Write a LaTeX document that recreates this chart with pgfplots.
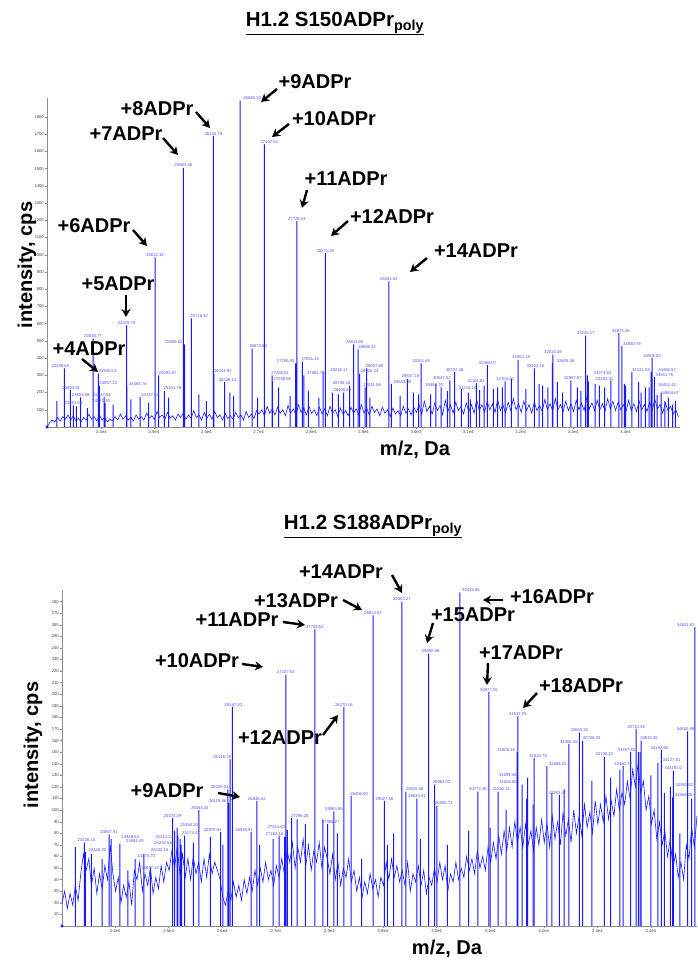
\documentclass[border=0pt]{standalone}
\usepackage{fontspec}
\setmainfont{Liberation Sans}
\usepackage{pgfplots}
\usepackage{pgfplotstable}
\pgfplotsset{compat=1.18}
\usetikzlibrary{arrows.meta}

\definecolor{spec}{RGB}{25,25,255}
\definecolor{lbl}{RGB}{80,80,245}

% ---------- H1.2 S150ADPr_poly ----------
\pgfplotstableread{
x y
22960 0
23010 25
23060 40
23110 30
23160 55
23210 35
23260 60
23310 45
23360 70
23410 40
23460 65
23510 35
23560 50
23610 30
23660 55
23710 40
23760 75
23810 45
23860 60
23910 35
23960 70
24010 40
24060 55
24110 30
24160 45
24210 35
24260 60
24310 40
24360 75
24410 45
24460 65
24510 40
24560 55
24610 35
24660 70
24710 45
24760 60
24810 40
24860 80
24910 50
24960 65
25010 45
25060 90
25110 55
25160 70
25210 45
25260 85
25310 50
25360 65
25410 40
25460 75
25510 55
25560 80
25610 45
25660 70
25710 50
25760 95
25810 55
25860 70
25910 40
25960 85
26010 50
26060 75
26110 45
26160 90
26210 55
26260 70
26310 40
26360 80
26410 50
26460 65
26510 45
26560 85
26610 55
26660 70
26710 40
26760 90
26810 55
26860 75
26910 50
26960 95
27010 75
27060 100
27110 65
27160 120
27210 80
27260 105
27310 70
27360 115
27410 80
27460 100
27510 65
27560 125
27610 80
27660 105
27710 70
27760 130
27810 85
27860 110
27910 70
27960 120
28010 80
28060 100
28110 65
28160 115
28210 75
28260 105
28310 65
28360 120
28410 80
28460 100
28510 60
28560 110
28610 75
28660 95
28710 65
28760 115
28810 80
28860 105
28910 70
28960 130
29010 80
29060 110
29110 70
29160 120
29210 85
29260 105
29310 65
29360 115
29410 80
29460 100
29510 60
29560 110
29610 75
29660 95
29710 65
29760 120
29810 80
29860 105
29910 70
29960 115
30010 85
30060 130
30110 70
30160 150
30210 90
30260 120
30310 75
30360 140
30410 95
30460 125
30510 70
30560 155
30610 90
30660 130
30710 80
30760 145
30810 95
30860 120
30910 75
30960 140
31010 90
31060 130
31110 80
31160 160
31210 95
31260 130
31310 85
31360 150
31410 100
31460 135
31510 85
31560 160
31610 95
31660 130
31710 80
31760 145
31810 95
31860 165
31910 100
31960 135
32010 85
32060 150
32110 95
32160 130
32210 80
32260 145
32310 95
32360 125
32410 90
32460 160
32510 100
32560 135
32610 95
32660 165
32710 100
32760 130
32810 90
32860 150
32910 95
32960 135
33010 90
33060 155
33110 100
33160 140
33210 95
33260 170
33310 105
33360 140
33410 95
33460 155
33510 100
33560 135
33610 90
33660 165
33710 105
33760 150
33810 95
33860 145
33910 100
33960 130
34010 90
34060 155
34110 95
34160 135
34210 90
34260 150
34310 100
34360 130
34410 90
34460 145
34510 95
34560 160
34610 105
34660 130
34710 80
34760 140
34810 95
34860 120
34910 75
34960 100
35010 60
}\topbase

\pgfplotstableread{
x y
23150 150
23520 120
23730 110
24220 130
24560 160
24900 140
25280 170
25860 190
26000 150
26450 200
26520 180
26980 170
27380 230
27600 180
27950 210
28150 170
28520 190
28620 200
29120 170
29700 180
29950 200
30050 190
30280 190
30380 250
30600 210
30870 220
31000 200
31040 160
31300 240
31480 220
31560 230
31650 230
31820 280
32100 220
32350 250
32420 240
32520 230
32700 260
32800 200
33080 230
33150 210
33420 250
33500 240
33600 230
33720 270
33980 250
34000 240
34250 260
34300 200
34380 230
34680 200
34750 150
34820 170
34900 130
34950 150
}\topspike

\pgfplotstableread{
x y lab dx
23289.63 340 23289.63 -4
23403.91 215 23403.91 1
23603.08 172 23603.08 0
23463.04 125 23463.04 0
23838.77 515 23838.77 0
23940.53 310 23940.53 9
23957.23 240 23957.23 9
24047.94 175 24047.94 -2
24071.10 140 24071.10 -4
24479.79 590 24479.79 0
24483.76 235 24483.76 11
24737.82 175 24737.82 10
25022.15 985 25022.15 0
25092.07 300 25092.07 9
25201.78 210 25201.78 8
25588.62 480 25588.62 -11
25563.46 1505 25563.46 0
25716.67 630 25716.67 8
26134.79 1690 26134.79 0
26144.97 310 26144.97 9
26348.13 260 26348.13 3
26646.10 1895 26646.10 12
26873.63 455 26873.63 6
27107.51 1640 27107.51 5
27256.51 300 27256.51 8
27258.59 265 27258.59 10
27706.05 370 27706.05 -10
27728.04 1195 27728.04 0
27831.44 380 27831.44 8
27862.75 300 27862.75 12
28228.17 320 28228.17 16
28271.28 1010 28271.28 0
28405.69 200 28405.69 10
28735.26 240 28735.26 -8
28811.65 480 28811.65 1
28896.23 450 28896.23 9
28926.34 310 28926.34 10
29057.69 340 29057.69 8
29031.56 230 29031.56 7
29481.82 845 29481.82 0
29533.90 250 29533.90 11
29837.18 280 29837.18 3
30101.65 370 30101.65 0
30482.70 230 30482.70 -7
30647.52 270 30647.52 -8
30737.48 320 30737.48 0
31151.81 255 31151.81 0
31215.10 215 31215.10 -12
31364.07 360 31364.07 0
31704.20 265 31704.20 0
31952.18 390 31952.18 3
32262.10 340 32262.10 1
32615.49 420 32615.49 0
32605.36 370 32605.36 13
32957.87 270 32957.87 2
33240.17 530 33240.17 0
33273.63 300 33273.63 15
33292.41 265 33292.41 16
33873.39 545 33873.39 2
33930.79 470 33930.79 10
34121.33 320 34121.33 9
34508.50 400 34508.50 0
34486.57 320 34486.57 16
34551.75 290 34551.75 10
34451.42 230 34451.42 18
34604.67 185 34604.67 13
}\toppk

% ---------- H1.2 S188ADPr_poly ----------
\pgfplotstableread{
x y
23010 20
23060 30
23110 15
23160 28
23210 18
23260 35
23310 22
23360 45
23410 62
23460 48
23510 58
23560 35
23610 50
23660 28
23710 45
23760 32
23810 52
23860 40
23910 70
23960 45
24010 30
24060 42
24110 20
24160 35
24210 25
24260 38
24310 18
24360 48
24410 40
24460 55
24510 30
24560 45
24610 35
24660 50
24710 28
24760 42
24810 32
24860 52
24910 38
24960 55
25010 48
25060 65
25110 50
25160 68
25210 45
25260 62
25310 42
25360 58
25410 40
25460 60
25510 45
25560 55
25610 38
25660 58
25710 42
25760 62
25810 45
25860 55
25910 48
25960 40
26010 25
26060 18
26110 30
26160 22
26210 38
26260 25
26310 35
26360 22
26410 40
26460 28
26510 42
26560 30
26610 48
26660 35
26710 50
26760 38
26810 55
26860 40
26910 48
26960 35
27010 52
27060 42
27110 58
27160 45
27210 65
27260 55
27310 72
27360 50
27410 68
27460 55
27510 75
27560 52
27610 70
27660 48
27710 65
27760 55
27810 72
27860 50
27910 68
27960 58
28010 45
28060 62
28110 40
28160 55
28210 35
28260 50
28310 42
28360 58
28410 38
28460 48
28510 30
28560 42
28610 25
28660 38
28710 28
28760 45
28810 32
28860 40
28910 25
28960 42
29010 35
29060 55
29110 40
29160 58
29210 42
29260 52
29310 38
29360 48
29410 35
29460 55
29510 30
29560 45
29610 38
29660 52
29710 35
29760 48
29810 28
29860 42
29910 35
29960 50
30010 38
30060 55
30110 40
30160 52
30210 30
30260 45
30310 38
30360 55
30410 40
30460 50
30510 42
30560 60
30610 48
30660 58
30710 45
30760 65
30810 50
30860 60
30910 48
30960 68
31010 55
31060 72
31110 58
31160 78
31210 62
31260 82
31310 65
31360 85
31410 68
31460 90
31510 72
31560 85
31610 68
31660 88
31710 70
31760 82
31810 65
31860 85
31910 70
31960 92
32010 72
32060 88
32110 68
32160 95
32210 75
32260 90
32310 70
32360 98
32410 78
32460 92
32510 72
32560 100
32610 80
32660 95
32710 78
32760 105
32810 85
32860 98
32910 80
32960 108
33010 88
33060 105
33110 90
33160 112
33210 92
33260 108
33310 95
33360 118
33410 100
33460 115
33510 105
33560 125
33610 110
33660 135
33710 120
33760 140
33810 115
33860 125
33910 100
33960 112
34010 88
34060 100
34110 75
34160 90
34210 70
34260 82
34310 60
34360 75
34410 50
34460 62
34510 42
34560 55
34610 40
34660 70
34710 58
34760 85
34810 68
34860 95
}\botbase

\pgfplotstableread{
x y
23260 68
23560 62
23760 58
24240 48
24540 62
25110 82
25300 78
25460 72
25780 77
26010 70
26700 70
26950 75
27060 78
27400 92
27550 88
27880 92
28150 80
28600 58
29080 70
29200 80
29700 75
30200 70
30600 82
31000 85
31300 100
31680 110
31800 105
32150 115
32380 118
32900 125
33250 128
33420 135
33620 150
33800 150
34000 130
34250 115
34540 80
34760 110
}\botspike

\pgfplotstableread{
x y lab dx
23428.15 72 23428.15 2
23448.30 64 23448.30 12
23887.91 79 23887.91 0
23928.63 75 23928.63 19
24091.09 71 24091.09 15
24375.70 58 24375.70 11
24657.12 48 24657.12 0
25074.29 93 25074.29 0
25158.20 85 25158.20 12
25174.47 78 25174.47 13
25214.14 75 25214.14 -16
25232.58 70 25232.58 -18
25242.16 64 25242.16 -22
25563.24 100 25563.24 1
25970.83 81 25970.83 -8
26105.04 118 26105.04 -8
26119.96 106 26119.96 -11
26146.78 144 26146.78 -8
26187.20 189 26187.20 1
26539.91 81 26539.91 -7
26646.42 108 26646.42 0
27190.00 217 27107.53 0
27162.18 77 27162.18 -10
27214.80 83 27214.80 -11
27296.28 93 27296.28 8
27729.62 256 27729.62 0
27966.27 88 27966.27 3
28084.85 99 28084.85 0
28270.16 189 28270.16 0
28406.00 112 28406.00 8
29027.68 108 29027.68 0
28813.97 268 28813.97 0
29353.27 280 29353.27 0
29425.26 116 29425.26 9
29633.31 110 29633.31 0
29850.98 235 29850.98 2
29963.02 122 29963.02 7
30005.74 104 30005.74 7
30435.88 288 30435.88 11
30772.36 116 30772.36 0
30977.05 202 30977.05 0
31150.13 116 31150.13 3
31505.16 150 31505.16 -11
31594.80 122 31594.80 -14
31699.56 128 31699.56 -20
31517.05 181 31517.05 0
31820.76 145 31820.76 4
32058.52 138 32058.52 11
32293.47 113 32293.47 -2
32468.36 157 32468.36 0
32663.33 167 32663.33 0
32726.33 160 32726.33 9
33130.23 146 33130.23 0
33480.72 138 33480.72 0
33767.60 150 33767.60 -12
33724.38 170 33724.38 0
33815.35 160 33815.35 8
34192.88 152 34192.88 -2
34127.51 141 34127.51 14
34419.02 134 34419.02 0
34682.89 168 34682.89 -2
34362.82 120 34362.82 14
34406.38 111 34406.38 11
34820.00 258 34821.62 -9
}\botpk

\pgfplotsset{
  spectrum/.style={
    scale only axis, clip=false,
    axis x line*=bottom, axis y line*=left,
    axis line style={black!45, line width=0.6pt},
    tick style={black!45, line width=0.4pt},
    tick align=outside, major tick length=2pt,
    ymin=0,
    scaled x ticks=false, scaled y ticks=false,
    xtick={24000,25000,...,34000},
    xticklabels={2.4e4,2.5e4,2.6e4,2.7e4,2.8e4,2.9e4,3.0e4,3.1e4,3.2e4,3.3e4,3.4e4},
    tick label style={font=\fontsize{4.2}{5}\selectfont, text=black!75, inner sep=1pt},
    /pgf/number format/assume math mode=true,
    /pgf/number format/1000 sep={},
  },
  base/.style={draw=spec, color=spec, line width=0.6pt},
  comb/.style={ybar, bar width=1pt, bar shift=0pt, fill=spec, draw=none, mark=none},
  pk/.style={comb,
    point meta=explicit symbolic, nodes near coords,
    visualization depends on=\thisrow{dx}\as\dx,
    every node near coord/.append style={font=\fontsize{4.2}{5}\selectfont,
      text=lbl, inner sep=0.6pt, anchor=south, xshift=\dx pt}},
}
\tikzset{
  ann/.style={font=\fontsize{20}{22}\selectfont\bfseries, inner sep=0pt},
  arr/.style={-{Stealth[length=8pt,width=9pt]}, line width=2.4pt, black},
  ttl/.style={font=\fontsize{20.5}{24}\selectfont\bfseries, inner sep=0pt, anchor=base},
}

\begin{document}
\begin{tikzpicture}[x=1pt,y=1pt]
\useasboundingbox (0,0) rectangle (697,963);

% top spectrum
\begin{axis}[spectrum, at={(47pt,536pt)}, anchor=south west,
  width=633pt, height=329pt,
  xmin=22960, xmax=35040, ymax=1910,
  ytick={100,200,...,1800}]
\addplot[base] table[x=x,y=y] {\topbase};
\addplot[comb] table[x=x,y=y] {\topspike};
\addplot[pk] table[x=x,y=y,meta=lab] {\toppk};
\addplot[only marks, mark=*, mark size=1.3pt, spec] coordinates {(22960,0)};
\end{axis}

% bottom spectrum
\begin{axis}[spectrum, at={(62pt,37pt)}, anchor=south west,
  width=635pt, height=336pt,
  xmin=23010, xmax=34860, ymax=290,
  ytick={10,20,...,280}]
\addplot[base] table[x=x,y=y] {\botbase};
\addplot[comb] table[x=x,y=y] {\botspike};
\addplot[pk] table[x=x,y=y,meta=lab] {\botpk};
\addplot[only marks, mark=*, mark size=1.3pt, spec] coordinates {(23010,0)};
\end{axis}

% titles and axis labels
\node[ttl] at (335,936) {\underline{H1.2 S150ADPr\textsubscript{poly}}};
\node[ttl] at (373,433) {\underline{H1.2 S188ADPr\textsubscript{poly}}};
\node[ann, rotate=90] at (27,698) {intensity, cps};
\node[ann, rotate=90] at (33,218) {intensity, cps};
\node[ann] at (415,513) {m/z, Da};
\node[ann] at (447,14) {m/z, Da};

% annotations, top
\node[ann] at (89,614) {+4ADPr};   \draw[arr] (82,604) -- (98,591);
\node[ann] at (118,679) {+5ADPr};  \draw[arr] (126,668) -- (126,646);
\node[ann] at (94,737) {+6ADPr};   \draw[arr] (133,733) -- (147,717);
\node[ann] at (126,829) {+7ADPr};  \draw[arr] (163,825) -- (178,808);
\node[ann] at (157,854) {+8ADPr};  \draw[arr] (196,851) -- (210,835);
\node[ann] at (315,881) {+9ADPr};  \draw[arr] (277,874) -- (261,861);
\node[ann] at (334,844) {+10ADPr}; \draw[arr] (289,839) -- (272,826);
\node[ann] at (346,784) {+11ADPr}; \draw[arr] (307,773) -- (302,755);
\node[ann] at (392,746) {+12ADPr}; \draw[arr] (348,742) -- (331,727);
\node[ann] at (476,712) {+14ADPr}; \draw[arr] (427,705) -- (410,691);

% annotations, bottom
\node[ann] at (341,391) {+14ADPr}; \draw[arr] (392,388) -- (402,370);
\node[ann] at (296,362) {+13ADPr}; \draw[arr] (343,363) -- (362,353);
\node[ann] at (237,343) {+11ADPr}; \draw[arr] (283,341) -- (305,338);
\node[ann] at (197,302) {+10ADPr}; \draw[arr] (242,299) -- (263,296);
\node[ann] at (280,225) {+12ADPr}; \draw[arr] (323,228) -- (338,248);
\node[ann] at (167,172) {+9ADPr};  \draw[arr] (218,170) -- (240,166);
\node[ann] at (552,366) {+16ADPr}; \draw[arr] (503,363) -- (483,363);
\node[ann] at (473,348) {+15ADPr}; \draw[arr] (433,340) -- (427,320);
\node[ann] at (521,310) {+17ADPr}; \draw[arr] (488,300) -- (487,278);
\node[ann] at (581,277) {+18ADPr}; \draw[arr] (537,270) -- (523,255);
\end{tikzpicture}
\end{document}
